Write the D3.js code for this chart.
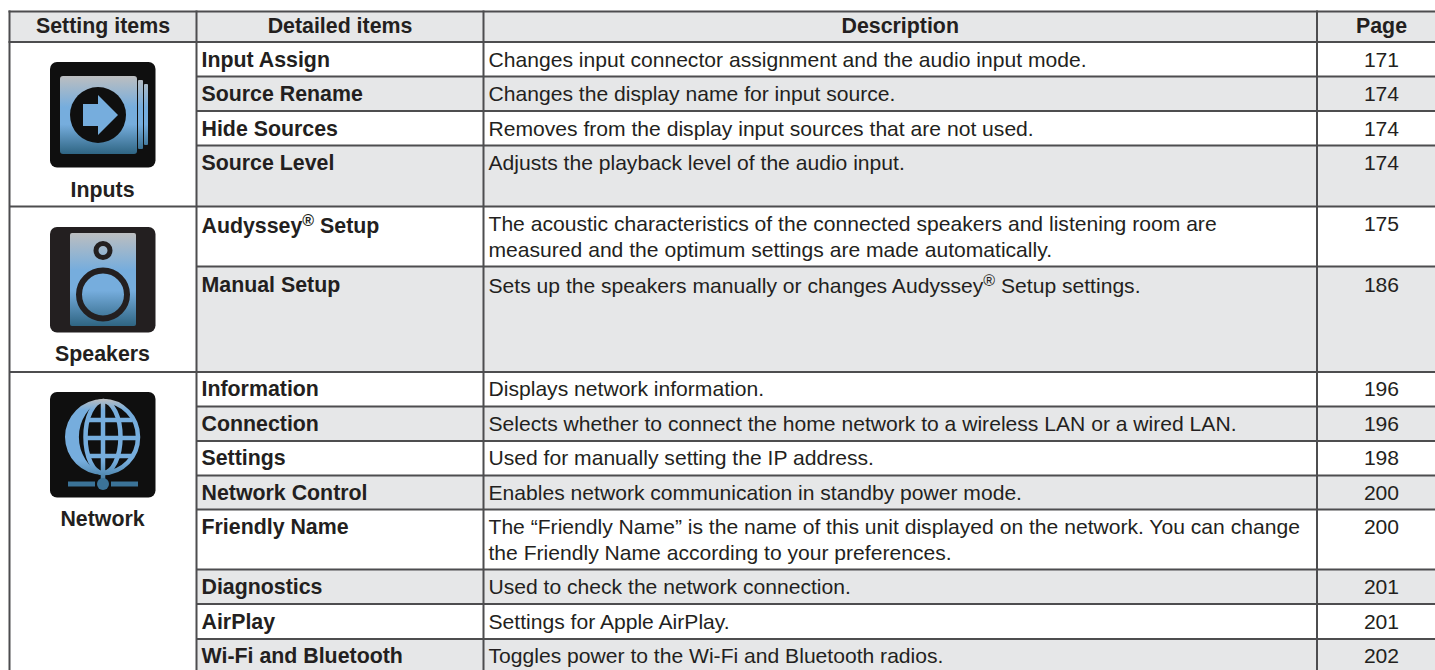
<!DOCTYPE html>
<html>
<head>
<meta charset="utf-8">
<script src="https://cdn.jsdelivr.net/npm/d3@7"></script>
<style>
  html, body { margin: 0; background: #fff; overflow: hidden; }
  svg { display: block; }
  text { font-family: "Liberation Sans", Arial, sans-serif; fill: #231f20; }
</style>
</head>
<body>
<div id="container"></div>
<script>
/* DATA */
const headers = ["Setting items", "Detailed items", "Description", "Page"];
const settingItems = ["Inputs", "Speakers", "Network"];
const detailItems = ["Input Assign", "Source Rename", "Hide Sources", "Source Level", "Audyssey® Setup", "Manual Setup",
  "Information", "Connection", "Settings", "Network Control", "Friendly Name", "Diagnostics", "AirPlay", "Wi-Fi and Bluetooth"];
const descriptions = [
  ["Changes input connector assignment and the audio input mode."],
  ["Changes the display name for input source."],
  ["Removes from the display input sources that are not used."],
  ["Adjusts the playback level of the audio input."],
  ["The acoustic characteristics of the connected speakers and listening room are", "measured and the optimum settings are made automatically."],
  ["Sets up the speakers manually or changes Audyssey® Setup settings."],
  ["Displays network information."],
  ["Selects whether to connect the home network to a wireless LAN or a wired LAN."],
  ["Used for manually setting the IP address."],
  ["Enables network communication in standby power mode."],
  ["The “Friendly Name” is the name of this unit displayed on the network. You can change", "the Friendly Name according to your preferences."],
  ["Used to check the network connection."],
  ["Settings for Apple AirPlay."],
  ["Toggles power to the Wi-Fi and Bluetooth radios."]
];
const pages = [171, 174, 174, 174, 175, 186, 196, 196, 198, 200, 200, 201, 201, 202];

/* LAYOUT */
const width = 1435, height = 670;
const gridColor = "#4d4d4f", shade = "#e6e7e8", fontSize = 21.1, boldSize = 21.35, lineHeight = 26;
const columnEdges = [9.5, 196.5, 483.5, 1317, 1446];
const rowEdges = [42, 76.5, 111, 145.5, 206.5, 266.5, 372, 406.5, 441, 475.5, 509.5, 569.5, 604, 639, 675];
const groupEdges = [42, 206.5, 372, 675];
// text baseline of each row, the pdf source does not sit them evenly
const baselines = [67, 101, 136, 170, 231, 292, 396, 431, 465, 500, 534, 594, 629, 663];

/* SCALES */
const rowTop = d3.scaleOrdinal().domain(detailItems).range(rowEdges.slice(0, -1));
const rowBottom = d3.scaleOrdinal().domain(detailItems).range(rowEdges.slice(1));
const rowBase = d3.scaleOrdinal().domain(detailItems).range(baselines);
const colLeft = d3.scaleOrdinal().domain(headers).range(columnEdges.slice(0, -1));
const colRight = d3.scaleOrdinal().domain(headers).range(columnEdges.slice(1));
const colMid = d => (colLeft(d) + colRight(d)) / 2;
const settingY = d3.scaleOrdinal().domain(settingItems).range([197, 361, 526]);

/* HTML ELEMENTS */
const svg = d3.select("#container").append("svg")
  .attr("width", width)
  .attr("height", height);

// blue gradients for the icons, one per icon span
const defs = svg.append("defs");
function addGradient(id, y1, y2, a, b) {
  const g = defs.append("linearGradient").attr("id", id)
    .attr("gradientUnits", "userSpaceOnUse")
    .attr("x1", 0).attr("x2", 0).attr("y1", y1).attr("y2", y2);
  [[0, "#bcbec0"], [a, "#76addd"], [b, "#76addd"], [1, "#2f6583"]].forEach(s => {
    g.append("stop").attr("offset", s[0]).attr("stop-color", s[1]);
  });
}
addGradient("gradInputs", 76, 154, 0.4, 0.62);
addGradient("gradSpeakers", 233, 326, 0.4, 0.62);
addGradient("gradNetwork", 399, 490, 0.12, 0.68);

// shaded cells
svg.append("rect")
  .attr("x", columnEdges[0]).attr("y", 11.5)
  .attr("width", width).attr("height", 30.5)
  .attr("fill", shade);

svg.selectAll("rect.shade")
  .data(detailItems.filter((d, i) => i % 2 === 1))
  .join("rect")
  .attr("class", "shade")
  .attr("x", colLeft(headers[1]))
  .attr("y", d => rowTop(d))
  .attr("width", width - colLeft(headers[1]))
  .attr("height", d => rowBottom(d) - rowTop(d))
  .attr("fill", shade);

// grid lines
const grid = svg.append("g").attr("stroke", gridColor).attr("stroke-width", 2);
grid.append("line").attr("x1", columnEdges[0] - 1).attr("x2", width).attr("y1", 11.5).attr("y2", 11.5);
grid.append("line").attr("x1", columnEdges[0] - 1).attr("x2", width).attr("y1", 42).attr("y2", 42);
grid.selectAll("line.row")
  .data(detailItems.slice(0, -1))
  .join("line")
  .attr("class", "row")
  .attr("x1", d => groupEdges.includes(rowBottom(d)) ? columnEdges[0] : columnEdges[1])
  .attr("x2", width)
  .attr("y1", d => rowBottom(d))
  .attr("y2", d => rowBottom(d));
grid.selectAll("line.col")
  .data(columnEdges.slice(0, -1))
  .join("line")
  .attr("class", "col")
  .attr("x1", d => d).attr("x2", d => d)
  .attr("y1", 10.5).attr("y2", height);

// header text
svg.selectAll("text.header")
  .data(headers)
  .join("text")
  .attr("class", "header")
  .attr("x", d => colMid(d))
  .attr("y", 33)
  .attr("text-anchor", "middle")
  .attr("font-size", boldSize)
  .attr("font-weight", "bold")
  .text(d => d);

// setting names below the icons
svg.selectAll("text.setting")
  .data(settingItems)
  .join("text")
  .attr("class", "setting")
  .attr("x", colMid(headers[0]) - 0.5)
  .attr("y", d => settingY(d))
  .attr("text-anchor", "middle")
  .attr("font-size", boldSize)
  .attr("font-weight", "bold")
  .text(d => d);

// text with a raised registered mark
function addText(sel, str) {
  const parts = str.split("®");
  parts.forEach((p, i) => {
    const t = sel.append("tspan").text(p);
    if (i > 0) t.attr("dy", 7.5);
    if (i < parts.length - 1) {
      sel.append("tspan").attr("dy", -7.5).attr("font-size", 16).text("®");
    }
  });
}

svg.selectAll("text.detail")
  .data(detailItems)
  .join("text")
  .attr("class", "detail")
  .attr("x", colLeft(headers[1]) + 5)
  .attr("y", d => rowBase(d) + (d.includes("®") ? 2 : 0))
  .attr("font-size", boldSize)
  .attr("font-weight", "bold")
  .each(function(d) { addText(d3.select(this), d); });

detailItems.forEach((d, i) => {
  descriptions[i].forEach((line, j) => {
    svg.append("text")
      .attr("x", colLeft(headers[2]) + 5)
      .attr("y", rowBase(d) + (line.includes("®") ? 1 : 0) + j * lineHeight)
      .attr("font-size", fontSize)
      .call(addText, line);
  });
});

svg.selectAll("text.page")
  .data(detailItems)
  .join("text")
  .attr("class", "page")
  .attr("x", colMid(headers[3]))
  .attr("y", d => rowBase(d))
  .attr("text-anchor", "middle")
  .attr("font-size", fontSize)
  .text((d, i) => pages[i]);

/* ICONS */
const black = "#0f0f0f";
const badge = (y, fill) => svg.append("rect")
  .attr("x", 50).attr("y", y).attr("width", 105.5).attr("height", 105.5)
  .attr("rx", 7).attr("fill", fill);

// Inputs
badge(62, black);
const inputs = svg.append("g").attr("fill", "url(#gradInputs)");
inputs.append("rect").attr("x", 144).attr("y", 84).attr("width", 4).attr("height", 61).attr("rx", 1);
inputs.append("rect").attr("x", 138).attr("y", 80).attr("width", 5).attr("height", 69).attr("rx", 1);
inputs.append("rect").attr("x", 60).attr("y", 76).attr("width", 77).attr("height", 78).attr("rx", 3);
svg.append("circle").attr("cx", 98).attr("cy", 115).attr("r", 28).attr("fill", black);
svg.append("path")
  .attr("d", "M83,104H98V95L118,115L98,135V126H83Z")
  .attr("fill", "#76addd");

// Speakers
badge(227, "#231f20");
svg.append("rect").attr("x", 70).attr("y", 233).attr("width", 66).attr("height", 93).attr("rx", 2)
  .attr("fill", "url(#gradSpeakers)");
svg.append("circle").attr("cx", 103).attr("cy", 250.5).attr("r", 7).attr("fill", "none")
  .attr("stroke", "#231f20").attr("stroke-width", 5);
svg.append("circle").attr("cx", 103).attr("cy", 294.5).attr("r", 24).attr("fill", "none")
  .attr("stroke", "#231f20").attr("stroke-width", 6);

// Network
badge(392, black);
svg.append("path")
  .attr("d", "M103,399A38,38 0 0 0 103,475A42,42 0 0 1 103,399Z")
  .attr("fill", "url(#gradNetwork)");
const globe = svg.append("g").attr("fill", "none").attr("stroke", "url(#gradNetwork)").attr("stroke-width", 4.5);
globe.append("path").attr("d", "M103,401A35,36 0 0 1 103,473");
globe.append("ellipse").attr("cx", 103).attr("cy", 437).attr("rx", 17.5).attr("ry", 36);
globe.append("line").attr("x1", 103).attr("x2", 103.01).attr("y1", 401).attr("y2", 482);
globe.append("line").attr("x1", 85).attr("x2", 139).attr("y1", 438).attr("y2", 438);
globe.append("path").attr("d", "M88,420H132M88,456H132");
svg.append("circle").attr("cx", 103).attr("cy", 484).attr("r", 6).attr("fill", "#3b7398");
svg.append("rect").attr("x", 68).attr("y", 481.5).attr("width", 27).attr("height", 5).attr("fill", "#3b7398");
svg.append("rect").attr("x", 111).attr("y", 481.5).attr("width", 27).attr("height", 5).attr("fill", "#3b7398");
</script>
</body>
</html>
